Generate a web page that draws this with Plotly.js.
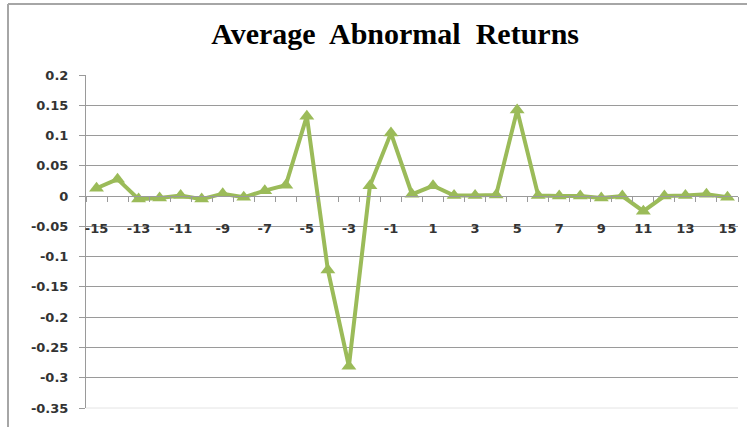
<!DOCTYPE html>
<html>
<head>
<meta charset="utf-8">
<script src="https://cdn.plot.ly/plotly-3.0.1.min.js"></script>
<style>
  html, body { margin: 0; padding: 0; background: #ffffff; }
  #chart { width: 747px; height: 427px; }
</style>
</head>
<body>
<div id="chart"></div>
<script>
// Event window days and the average abnormal return on each day
const days = [-15, -14, -13, -12, -11, -10, -9, -8, -7, -6, -5, -4, -3, -2, -1,
              0, 1, 2, 3, 4, 5, 6, 7, 8, 9, 10, 11, 12, 13, 14, 15];
const aar = [0.013, 0.028, -0.005, -0.003, 0.001, -0.005, 0.004, -0.002, 0.009, 0.018, 0.132,
             -0.122, -0.281, 0.017, 0.104, 0.003, 0.017, 0.001, 0.001, 0.002, 0.142,
             0.001, 0.000, 0.000, -0.003, 0.000, -0.025, 0.000, 0.001, 0.003, -0.002];

// Axis labels
const xTickVals = [-15, -13, -11, -9, -7, -5, -3, -1, 1, 3, 5, 7, 9, 11, 13, 15];
const xTickText = ['-15', '-13', '-11', '-9', '-7', '-5', '-3', '-1', '1', '3', '5', '7', '9', '11', '13', '15'];
const yTickVals = [0.2, 0.15, 0.1, 0.05, 0, -0.05, -0.1, -0.15, -0.2, -0.25, -0.3, -0.35];
const yTickText = ['0.2', '0.15', '0.1', '0.05', '0', '-0.05', '-0.1', '-0.15', '-0.2', '-0.25', '-0.3', '-0.35'];

const green = '#9bbb59';
const grid = '#9a9a9a';
const tickFont = { family: 'DejaVu Sans', size: 13, color: '#333333', weight: 'bold' };

const yMin = -0.35, yMax = 0.2;
// the category axis crosses the value axis at zero
const zeroPos = (0 - yMin) / (yMax - yMin);

const trace = {
  x: days,
  y: aar,
  type: 'scatter',
  mode: 'lines+markers',
  line: { color: green, width: 4 },
  marker: { symbol: 'triangle-up', size: 13, color: green },
  hoverinfo: 'x+y'
};

const layout = {
  width: 747,
  height: 427,
  margin: { l: 86, r: 9, t: 75, b: 19 },
  paper_bgcolor: '#ffffff',
  plot_bgcolor: '#ffffff',
  showlegend: false,
  title: {
    text: 'Average  Abnormal  Returns',
    font: { family: 'Liberation Serif', size: 30, color: '#000000', weight: 'bold' },
    x: 0.529,
    xanchor: 'center',
    y: 1 - 33 / 427,
    yanchor: 'middle',
    yref: 'container'
  },
  xaxis: {
    range: [-15.5, 15.5],
    anchor: 'free',
    position: zeroPos,
    showline: true,
    linecolor: grid,
    linewidth: 1,
    showgrid: false,
    zeroline: false,
    tickmode: 'array',
    tickvals: xTickVals,
    ticktext: xTickText,
    ticks: '',
    ticklabelstandoff: 20,
    tickfont: tickFont,
    minor: { tick0: 0.5, dtick: 1, ticks: 'outside', ticklen: 5, tickcolor: grid, tickwidth: 1, showgrid: false },
    fixedrange: true
  },
  yaxis: {
    range: [yMin, yMax],
    showline: true,
    linecolor: grid,
    linewidth: 1,
    showgrid: true,
    gridcolor: grid,
    gridwidth: 1,
    zeroline: false,
    tickmode: 'array',
    tickvals: yTickVals,
    ticktext: yTickText,
    ticks: 'outside',
    ticklen: 6,
    tickcolor: grid,
    ticklabelstandoff: 8,
    tickfont: tickFont,
    fixedrange: true
  },
  shapes: [
    // light base line of the plot area
    { type: 'line', xref: 'paper', yref: 'paper', x0: 0, x1: 1, y0: 0, y1: 0,
      line: { color: '#e4e4e4', width: 1 }, layer: 'below' },
    // chart frame, top and left edges
    { type: 'line', xref: 'paper', yref: 'paper', x0: -78 / 652, x1: 661 / 652, y0: 404 / 333, y1: 404 / 333,
      line: { color: '#a6a6a6', width: 2 } },
    { type: 'line', xref: 'paper', yref: 'paper', x0: -78 / 652, x1: -78 / 652, y0: 404 / 333, y1: -19 / 333,
      line: { color: '#a6a6a6', width: 2 } }
  ]
};

Plotly.newPlot('chart', [trace], layout, { displayModeBar: false, staticPlot: true });
</script>
</body>
</html>
